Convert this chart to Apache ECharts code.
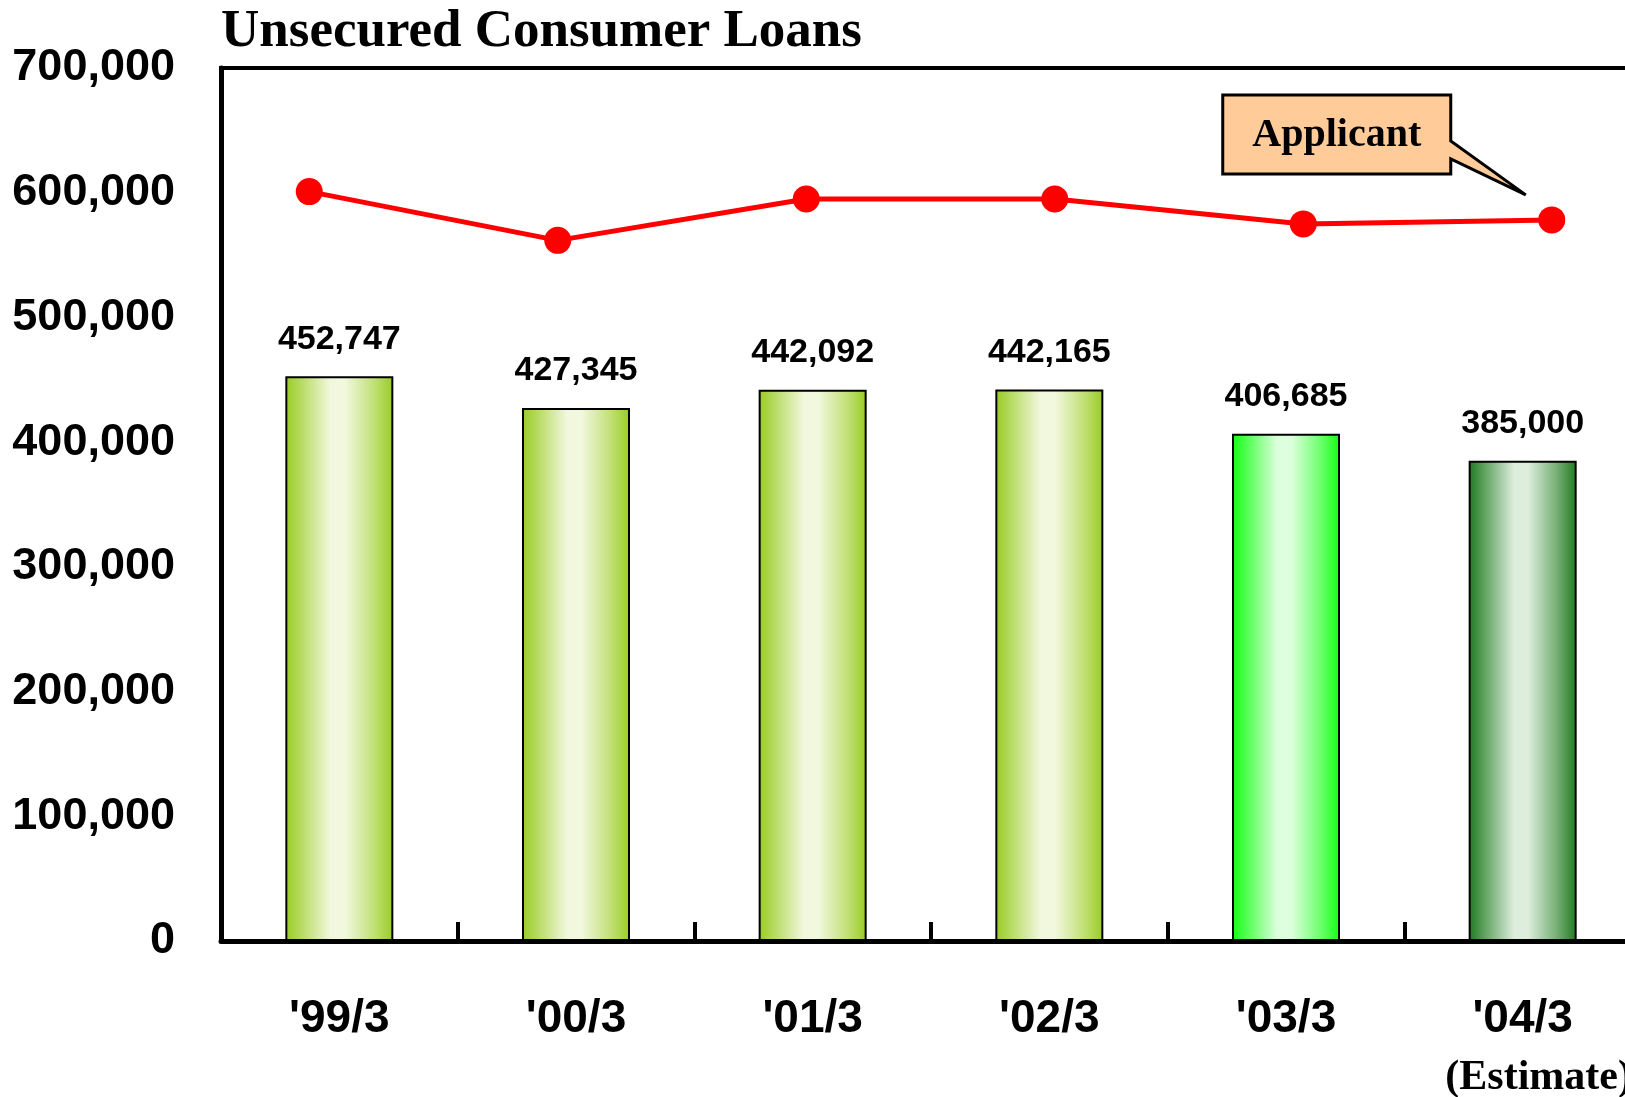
<!DOCTYPE html>
<html>
<head>
<meta charset="utf-8">
<script src="https://cdn.jsdelivr.net/npm/echarts@6/dist/echarts.min.js"></script>
<style>
html, body { margin: 0; padding: 0; background: #fff; }
#chart { width: 1625px; height: 1097px; }
</style>
</head>
<body>
<div id="chart"></div>
<script>
var categories = ["'99/3", "'00/3", "'01/3", "'02/3", "'03/3", "'04/3"];
var loans = [452747, 427345, 442092, 442165, 406685, 385000];
var applicants = [600900, 561800, 595000, 595000, 575000, 578200];
var estimateIndex = 5;

var sans = '"Liberation Sans", Arial, sans-serif';
var serif = '"Liberation Serif", "Times New Roman", serif';

// edge / centre colours of the glossy bars
var barShades = [
	['#99cc22', '#f2f8de'],
	['#99cc22', '#f2f8de'],
	['#99cc22', '#f2f8de'],
	['#99cc22', '#f2f8de'],
	['#11ff11', '#ddffdd'],
	['#1e7a1e', '#ddeedd']
];

function gloss(edge, mid) {
	return new echarts.graphic.LinearGradient(0, 0, 1, 0, [
		{offset: 0, color: edge},
		{offset: 0.15, color: echarts.color.lerp(0.35, [edge, mid])},
		{offset: 0.42, color: mid},
		{offset: 0.55, color: mid},
		{offset: 0.82, color: echarts.color.lerp(0.45, [edge, mid])},
		{offset: 1, color: edge}
	]);
}

var barData = [];
for (var i = 0; i < loans.length; i++) {
	barData.push({
		value: loans[i],
		itemStyle: {color: gloss(barShades[i][0], barShades[i][1])}
	});
}

function thousands(v) {
	return String(v).replace(/\B(?=(\d{3})+(?!\d))/g, ',');
}

var chart = echarts.init(document.getElementById('chart'));

var option = {
	animation: false,
	backgroundColor: '#fff',
	title: {
		text: 'Unsecured Consumer Loans',
		left: 221,
		top: 6,
		padding: 0,
		textStyle: {fontFamily: serif, fontWeight: 'bold', fontSize: 53, color: '#000'}
	},
	grid: [
		{left: 221, right: -16, top: 68, bottom: 156, show: true, borderColor: '#000', borderWidth: 4,
			outerBoundsMode: 'none', containLabel: false},
		{left: 185, right: -51, top: 68, bottom: 156, outerBoundsMode: 'none', containLabel: false}
	],
	xAxis: [
		{
			type: 'category',
			gridIndex: 0,
			data: categories,
			axisLine: {lineStyle: {color: '#000', width: 5}},
			axisTick: {show: true, interval: 0, inside: true, length: 19, lineStyle: {color: '#000', width: 4}},
			axisLabel: {
				interval: 0,
				margin: 52,
				fontFamily: sans,
				fontWeight: 'bold',
				fontSize: 46,
				lineHeight: 52,
				color: '#000',
				formatter: function(v, idx) {
					if (idx === estimateIndex) return v + '\n{e|(Estimate)}';
					return v;
				},
				rich: {
					e: {fontFamily: serif, fontWeight: 'bold', fontSize: 42, lineHeight: 66, color: '#000', padding: [0, 0, 0, 32]}
				}
			}
		},
		{type: 'category', gridIndex: 1, data: categories, show: false}
	],
	yAxis: [
		{
			type: 'value',
			gridIndex: 0,
			min: 0,
			max: 700000,
			interval: 100000,
			splitLine: {show: false},
			axisLine: {show: true, lineStyle: {color: '#000', width: 5}},
			axisTick: {show: false},
			axisLabel: {
				margin: 46,
				fontFamily: sans,
				fontWeight: 'bold',
				fontSize: 45,
				color: '#000',
				formatter: thousands
			}
		},
		{type: 'value', gridIndex: 1, min: 0, max: 700000, show: false}
	],
	series: [
		{
			name: 'Loans',
			type: 'bar',
			xAxisIndex: 0,
			yAxisIndex: 0,
			barWidth: 108,
			data: barData,
			itemStyle: {borderColor: '#000', borderWidth: 2},
			label: {
				show: true,
				position: 'top',
				distance: 20,
				fontFamily: sans,
				fontWeight: 'bold',
				fontSize: 34,
				color: '#000',
				formatter: function(p) { return thousands(p.value); }
			}
		},
		{
			name: 'Applicant',
			type: 'line',
			xAxisIndex: 1,
			yAxisIndex: 1,
			data: applicants,
			symbol: 'circle',
			symbolSize: 27,
			lineStyle: {color: '#ff0000', width: 5},
			itemStyle: {color: '#ff0000'},
			z: 5
		}
	]
};
chart.setOption(option);

// callout "Applicant" pointing at the last line point
var pt = chart.convertToPixel({xAxisIndex: 1, yAxisIndex: 1}, [applicants.length - 1, applicants[applicants.length - 1]]);
var tipX = pt[0] - 26, tipY = pt[1] - 25;
var bxR = tipX - 75, bxL = bxR - 228, bxT = tipY - 100, bxB = bxT + 79;
chart.setOption({
	graphic: [
		{
			type: 'polygon',
			z: 10,
			shape: {points: [[bxL, bxT], [bxR, bxT], [bxR, bxT + 46], [tipX, tipY], [bxR, bxT + 64], [bxR, bxB], [bxL, bxB]]},
			style: {fill: '#ffcc99', stroke: '#000', lineWidth: 3, lineJoin: 'miter'}
		},
		{
			type: 'text',
			z: 11,
			x: (bxL + bxR) / 2,
			y: (bxT + bxB) / 2 + 1,
			style: {
				text: 'Applicant',
				fontFamily: serif,
				fontWeight: 'bold',
				fontSize: 40,
				fill: '#000',
				align: 'center',
				verticalAlign: 'middle',
				textAlign: 'center',
				textVerticalAlign: 'middle'
			}
		}
	]
});
</script>
</body>
</html>
